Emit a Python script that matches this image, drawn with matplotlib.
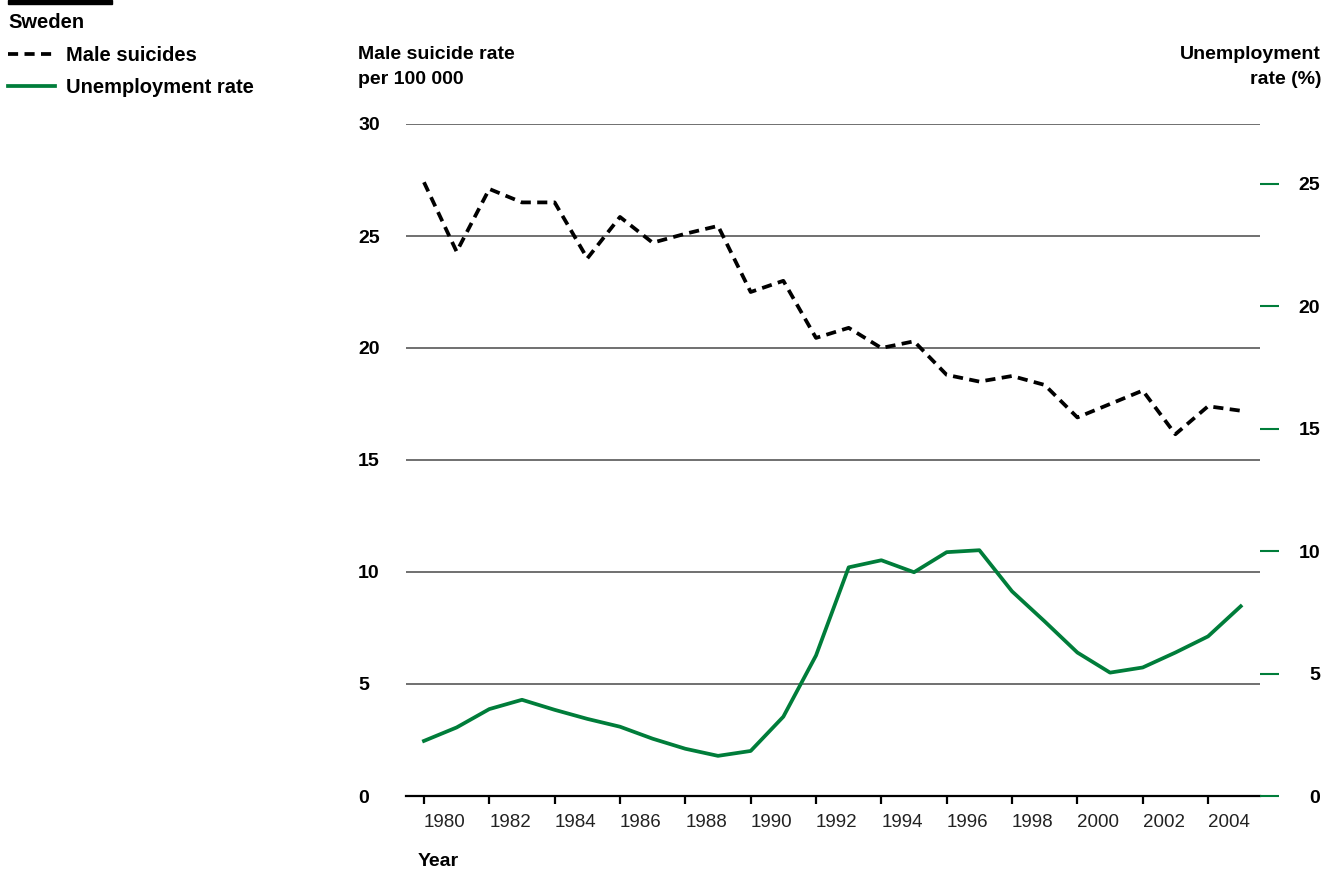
import matplotlib.pyplot as plt
import matplotlib.transforms as mtransforms
from matplotlib.patches import Rectangle

years = list(range(1980, 2006))
male_suicides = [27.4, 24.3, 27.1, 26.5, 26.5, 24.0, 25.85, 24.7, 25.1, 25.45,
                 22.5, 23.0, 20.45, 20.9, 20.0, 20.3, 18.8, 18.5, 18.75, 18.35,
                 16.9, 17.5, 18.1, 16.15, 17.4, 17.2]
unemployment = [2.25, 2.8, 3.55, 3.93, 3.52, 3.15, 2.83, 2.34, 1.93, 1.64,
                1.84, 3.24, 5.74, 9.34, 9.63, 9.14, 9.96, 10.04, 8.36, 7.13,
                5.86, 5.04, 5.25, 5.86, 6.52, 7.75]
x_ticks = list(range(1980, 2005, 2))
left_ticks = [0, 5, 10, 15, 20, 25, 30]
right_ticks = [0, 5, 10, 15, 20, 25]

GREEN = '#007d3a'
GRID = '#707070'
W, H = 1326, 872

plt.rcParams['font.family'] = ['Liberation Sans', 'DejaVu Sans']

fig = plt.figure(figsize=(W / 100, H / 100), dpi=100)
ax = fig.add_axes([406 / W, 1 - 796 / H, (1260 - 406) / W, (796 - 124) / H])
ax2 = ax.twinx()

# gridlines
for v in left_ticks[1:]:
    ax.axhline(v, color=GRID, lw=1.4, zorder=1)

suic, = ax.plot(years, male_suicides, color='black', lw=2.7, dashes=(2.7, 1.7),
                label='Male suicides', zorder=3)
unem, = ax2.plot(years, unemployment, color=GREEN, lw=2.7, label='Unemployment rate',
                 zorder=3)

ax.set_xlim(1979.45, 2005.59)
ax.set_ylim(0, 30)
ax2.set_ylim(0, 27.45)

for a in (ax, ax2):
    for s in ('top', 'left', 'right', 'bottom'):
        a.spines[s].set_visible(False)
ax.spines['bottom'].set_visible(True)
ax.spines['bottom'].set_linewidth(1.6)
ax.spines['bottom'].set_color('black')

ax.set_xticks(x_ticks)
ax.set_xticklabels([str(y) for y in x_ticks], fontsize=13.5, color='#222222',
                   ha='left')
shift = mtransforms.ScaledTranslation(-4 / 100, 0, fig.dpi_scale_trans)
for lab in ax.get_xticklabels():
    lab.set_transform(lab.get_transform() + shift)
ax.tick_params(axis='x', length=5.8, width=1.6, color='black', pad=7.5)

ax.set_yticks(left_ticks)
ax.set_yticklabels([str(v) for v in left_ticks], fontsize=14, fontweight='bold',
                   ha='left')
ax.tick_params(axis='y', length=0, pad=34.5)

ax2.set_yticks(right_ticks)
ax2.set_yticklabels([str(v) for v in right_ticks], fontsize=14, fontweight='bold',
                    ha='right')
ax2.tick_params(axis='y', length=13.7, width=1.5, color=GREEN, pad=29.5)

# axis titles
fig.text(358 / W, 1 - 46 / H, 'Male suicide rate\nper 100 000', ha='left', va='top',
         fontsize=14, fontweight='bold', linespacing=1.62)
fig.text(1321 / W, 1 - 46 / H, 'Unemployment\nrate (%)', ha='right', va='top',
         fontsize=14, fontweight='bold', linespacing=1.62, multialignment='right')
fig.text(418 / W, 1 - 861 / H, 'Year', ha='left', va='center',
         fontsize=14, fontweight='bold')

# top bar + legend
fig.patches.append(Rectangle((8 / W, 1 - 4 / H), 104 / W, 4 / H,
                             transform=fig.transFigure, color='black'))
leg = fig.legend(handles=[suic, unem], loc='upper left',
                 bbox_to_anchor=(8 / W, 1 - 13 / H), frameon=False,
                 title='Sweden', alignment='left', fontsize=14.5,
                 handlelength=2.35, handletextpad=0.55, labelspacing=0.68,
                 borderpad=0, borderaxespad=0)
leg.get_title().set_fontweight('bold')
leg.get_title().set_fontsize(14.5)
for t in leg.get_texts():
    t.set_fontweight('bold')

fig.savefig('out.png', dpi=100)
